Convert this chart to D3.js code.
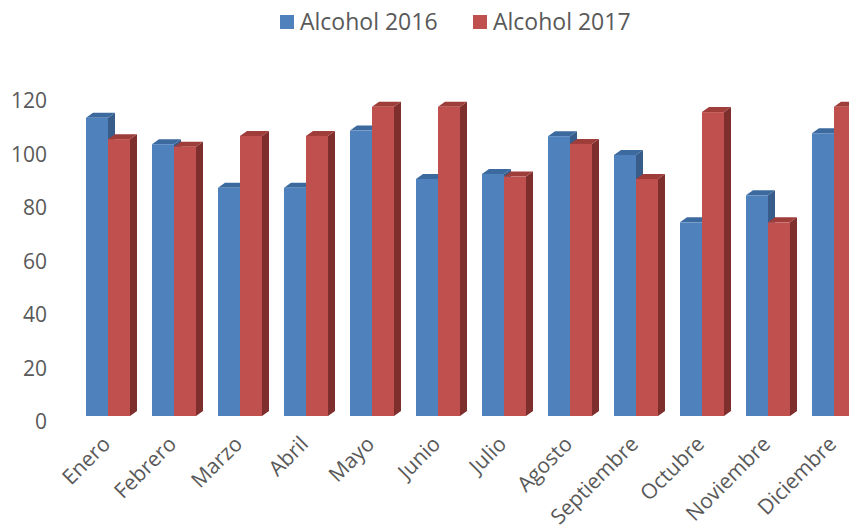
<!DOCTYPE html>
<html>
<head>
<meta charset="utf-8">
<script src="https://cdn.jsdelivr.net/npm/d3@7"></script>
<style>
  html, body { margin: 0; padding: 0; background: #fff; overflow: hidden; }
  svg { display: block; }
</style>
</head>
<body>
<svg id="chart" width="849" height="528"></svg>
<script>
// Monthly alcohol figures, 2016 vs 2017
const months = ["Enero", "Febrero", "Marzo", "Abril", "Mayo", "Junio",
                "Julio", "Agosto", "Septiembre", "Octubre", "Noviembre", "Diciembre"];
const alcohol2016 = [111.5, 101.6, 85.3, 85.3, 106.7, 88.6, 90.5, 104.6, 97.6, 72.4, 82.5, 105.7];
const alcohol2017 = [103.5, 100.7, 104.7, 104.7, 115.6, 115.6, 89.5, 101.7, 88.6, 113.6, 72.4, 115.6];
const seriesNames = ["Alcohol 2016", "Alcohol 2017"];
const yTicks = [0, 20, 40, 60, 80, 100, 120];

const palette = [
  { front: "#4F81BD", top: "#3C6A9E", side: "#385D8A" },
  { front: "#C0504D", top: "#9E3D3A", side: "#7E2F2D" }
];

const svg = d3.select("#chart");
const font = "'Open Sans', 'Liberation Sans', sans-serif";
const textColor = "#595959";

// 3D depth offset of the columns
const depthX = 7, depthY = -5;

// Category bands run past the right edge, as the plot is cropped there
const x0 = d3.scaleBand().domain(months).range([75, 867]).paddingInner(1 / 3).paddingOuter(1 / 6);
const x1 = d3.scaleBand().domain(seriesNames).range([0, x0.bandwidth()]);

// Value axis (labels sit on the back wall); the column faces sit slightly lower
const y = d3.scaleLinear().domain([0, 120]).range([421, 100]);
const frontShift = -5;

// Y axis labels
const yAxis = d3.axisLeft(y).tickValues(yTicks).tickSize(0).tickPadding(0);
const yg = svg.append("g").attr("transform", "translate(47,0)").call(yAxis);
yg.select(".domain").remove();
yg.selectAll("text")
  .attr("fill", textColor)
  .style("font-family", font)
  .style("font-size", "21px")
  .attr("dy", "0.36em");

// Columns
const data = months.map((m, i) => ({ month: m, values: [alcohol2016[i], alcohol2017[i]] }));

const groups = svg.append("g").selectAll("g")
  .data(data)
  .join("g")
  .attr("transform", d => `translate(${x0(d.month)},0)`);

groups.each(function (d) {
  const g = d3.select(this);
  d.values.forEach((v, s) => {
    const c = palette[s];
    const xl = x1(seriesNames[s]);
    const w = x1.bandwidth();
    const yb = y(0) + frontShift;
    const yt = y(v) + frontShift;
    // side face
    g.append("path")
      .attr("d", `M${xl + w},${yt} L${xl + w + depthX},${yt + depthY} L${xl + w + depthX},${yb + depthY} L${xl + w},${yb} Z`)
      .attr("fill", c.side);
    // top face
    g.append("path")
      .attr("d", `M${xl},${yt} L${xl + depthX},${yt + depthY} L${xl + w + depthX},${yt + depthY} L${xl + w},${yt} Z`)
      .attr("fill", c.top);
    // front face
    g.append("rect")
      .attr("x", xl).attr("y", yt)
      .attr("width", w).attr("height", yb - yt)
      .attr("fill", c.front);
  });
});

// Category labels, rotated
const xAxis = d3.axisBottom(d3.scalePoint().domain(months)
  .range([x0(months[0]) + x0.bandwidth() / 2, x0(months[months.length - 1]) + x0.bandwidth() / 2]))
  .tickSize(0).tickPadding(0);
const xg = svg.append("g").attr("transform", "translate(0,438)").call(xAxis);
xg.select(".domain").remove();
xg.selectAll("text")
  .attr("fill", textColor)
  .style("font-family", font)
  .style("font-size", "21px")
  .attr("text-anchor", "end")
  .attr("x", -3).attr("y", 0)
  .attr("dy", "0.35em")
  .attr("transform", "rotate(-45)");

// Legend
const legendX = [280, 473];
const legend = svg.append("g").selectAll("g")
  .data(seriesNames)
  .join("g")
  .attr("transform", (d, i) => `translate(${legendX[i]},15)`);
legend.append("rect")
  .attr("width", 14).attr("height", 14)
  .attr("fill", (d, i) => palette[i].front);
legend.append("text")
  .attr("x", 20).attr("y", 7)
  .attr("dy", "0.36em")
  .attr("fill", textColor)
  .style("font-family", font)
  .style("font-size", "23px")
  .text(d => d);
</script>
</body>
</html>
